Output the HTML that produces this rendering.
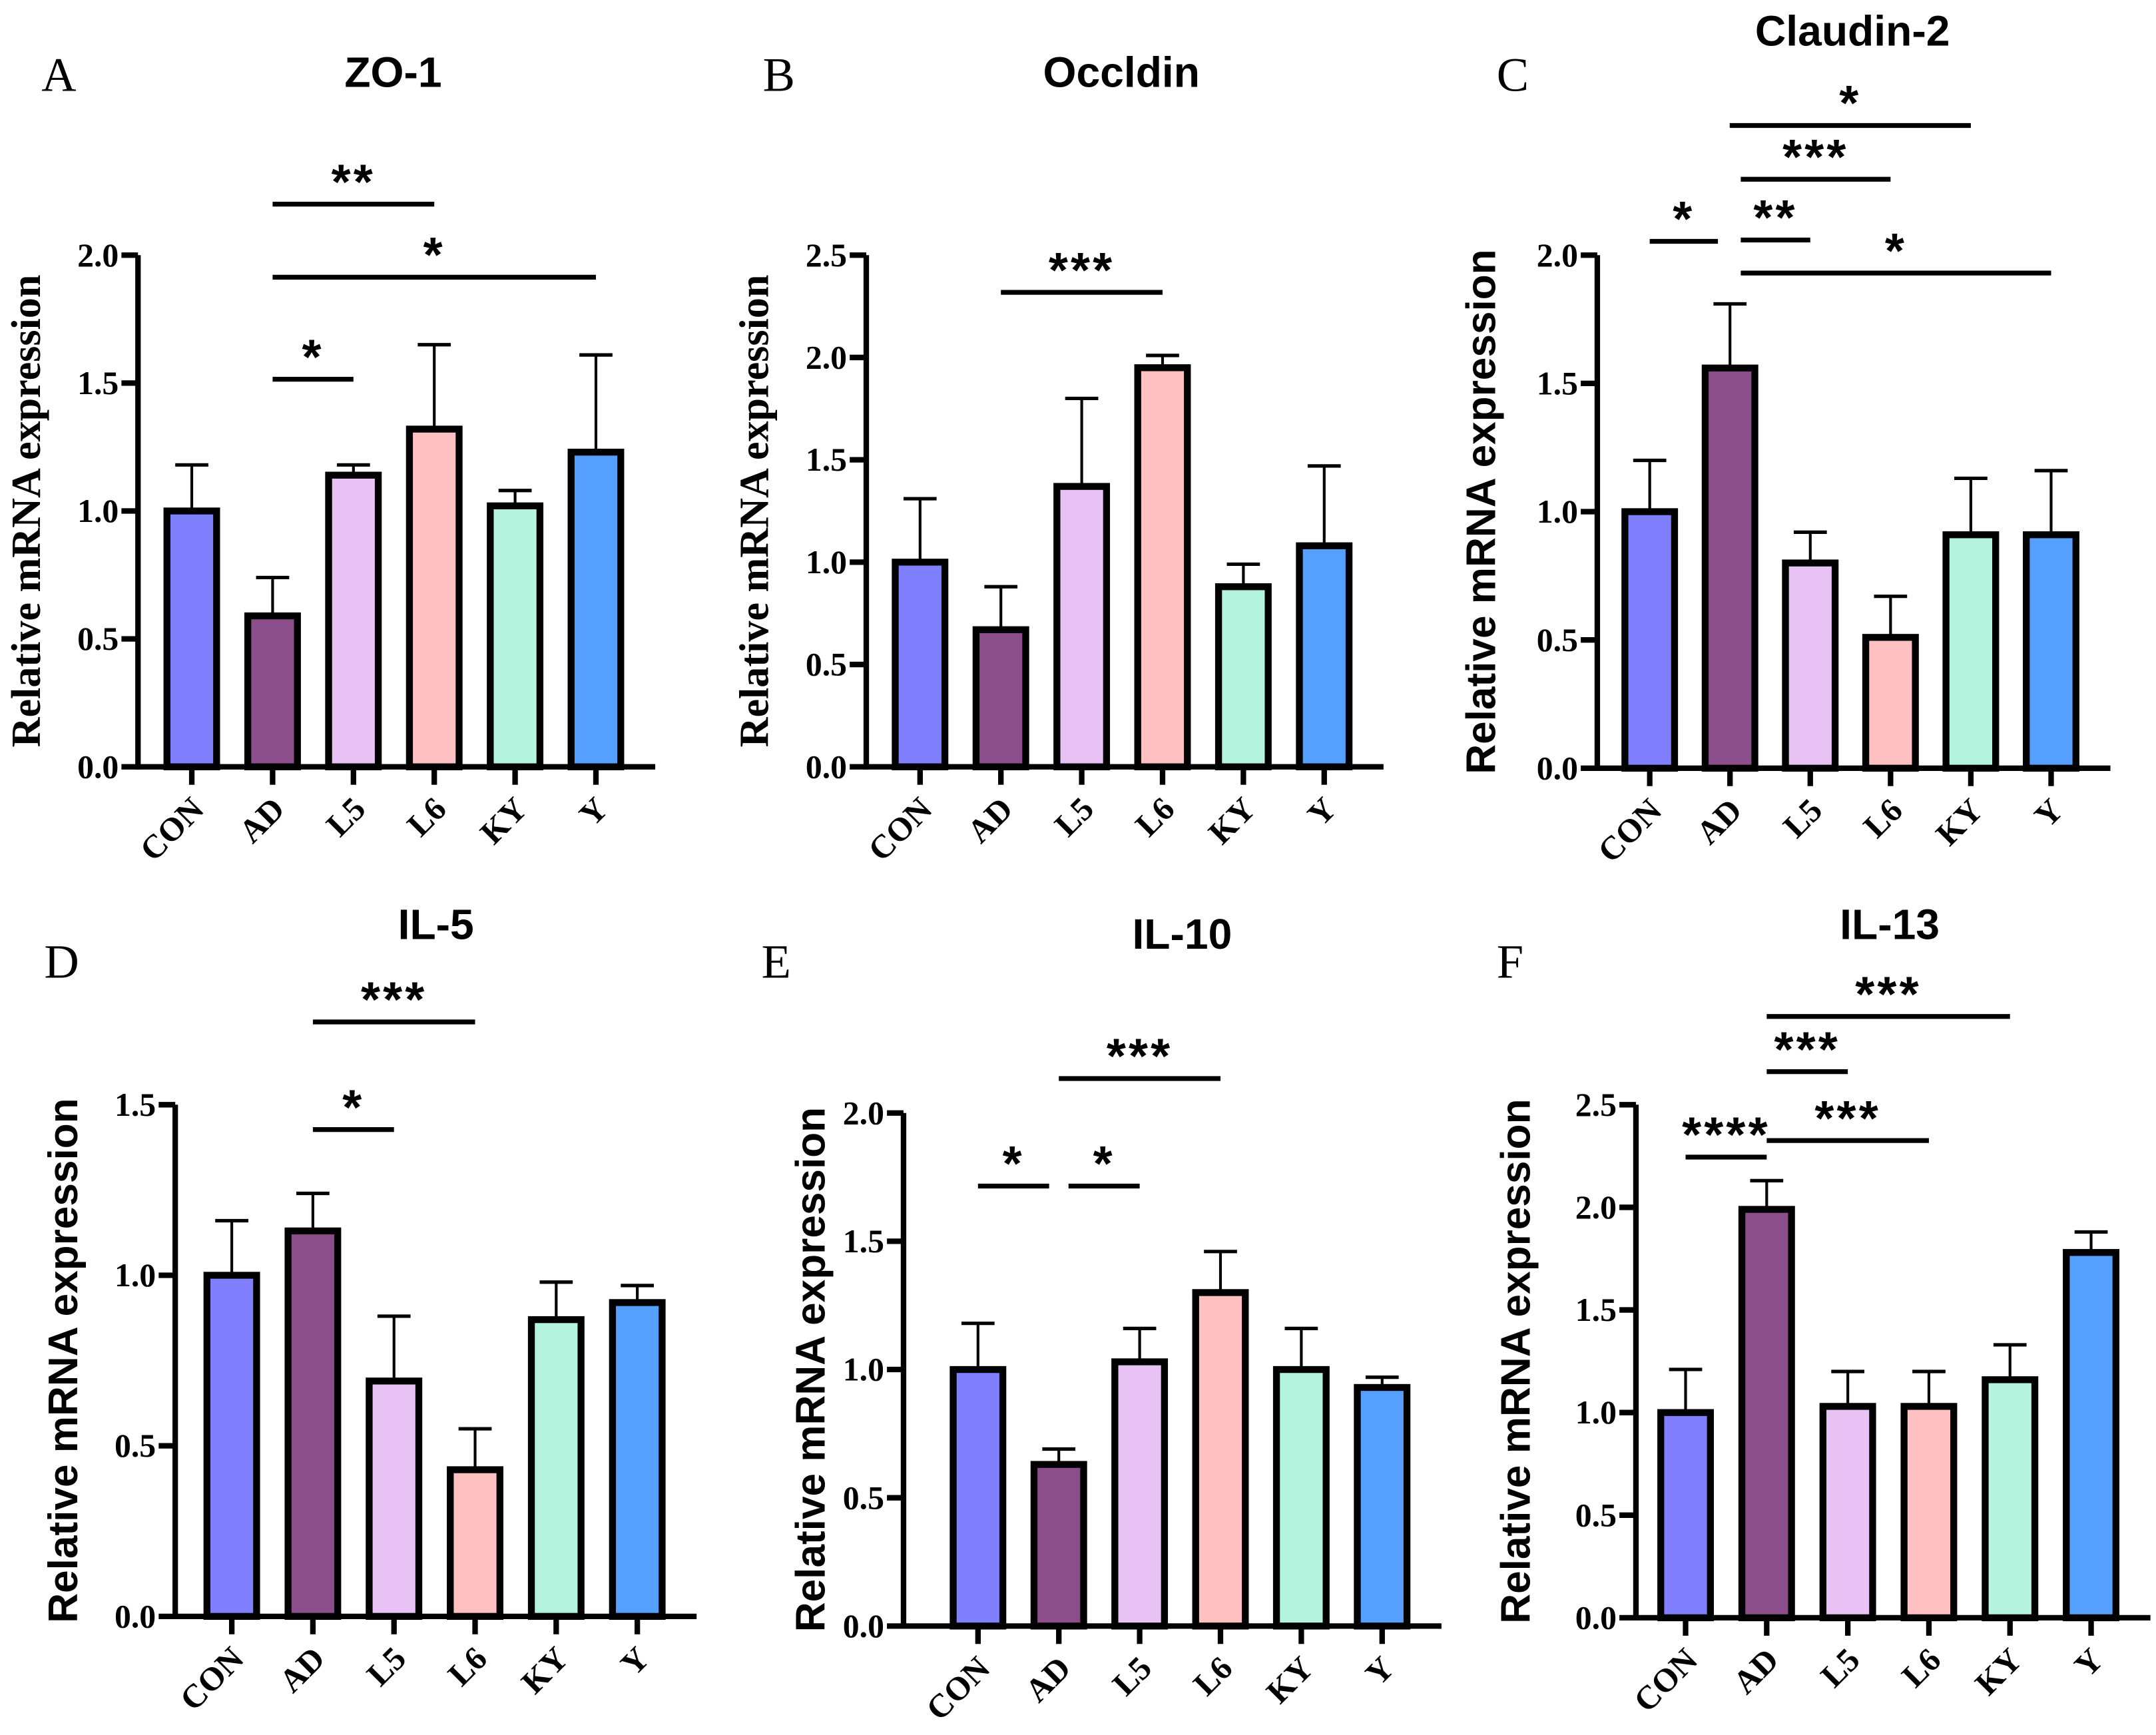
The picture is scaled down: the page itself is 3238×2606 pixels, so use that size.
<!DOCTYPE html>
<html><head><meta charset="utf-8"><style>
html,body{margin:0;padding:0;background:#fff;}
svg{display:block;}
.tick{font-family:"Liberation Serif",serif;font-weight:bold;font-size:24px;}
.xl{font-family:"Liberation Serif",serif;font-weight:bold;font-size:24px;}
.title{font-family:"Liberation Sans",sans-serif;font-weight:bold;font-size:31px;}
.letter{font-family:"Liberation Serif",serif;font-size:35px;}
.star{font-family:"Liberation Sans",sans-serif;font-weight:bold;font-size:36px;letter-spacing:2px;}
.ys{font-family:"Liberation Serif",serif;font-weight:bold;font-size:30px;}
.yss{font-family:"Liberation Sans",sans-serif;font-weight:bold;font-size:30px;}
</style></head><body>
<svg id="fig" width="3238" height="2606" viewBox="0 0 1563 1258" xmlns="http://www.w3.org/2000/svg"></svg>
<script>
const categories = ["CON","AD","L5","L6","KY","Y"];
const colors = ["#8080ff","#8b4e8a","#e8c2f4","#fec0c0","#b4f4de","#559ffe"];
const zo1Means = [1.0,0.59,1.14,1.32,1.02,1.23];
const zo1Errs = [0.18,0.15,0.04,0.33,0.06,0.38];
const occMeans = [1.0,0.67,1.37,1.95,0.88,1.08];
const occErrs = [0.31,0.21,0.43,0.06,0.11,0.39];
const cldMeans = [1.0,1.56,0.80,0.51,0.91,0.91];
const cldErrs = [0.20,0.25,0.12,0.16,0.22,0.25];
const il5Means = [1.0,1.13,0.69,0.43,0.87,0.92];
const il5Errs = [0.16,0.11,0.19,0.12,0.11,0.05];
const il10Means = [1.0,0.63,1.03,1.30,1.0,0.93];
const il10Errs = [0.18,0.06,0.13,0.16,0.16,0.04];
const il13Means = [1.0,1.99,1.03,1.03,1.16,1.78];
const il13Errs = [0.21,0.14,0.17,0.17,0.17,0.10];
const ticks2 = ["0.0","0.5","1.0","1.5","2.0"];
const ticks25 = ["0.0","0.5","1.0","1.5","2.0","2.5"];
const ticks15 = ["0.0","0.5","1.0","1.5"];

const NS="http://www.w3.org/2000/svg";
const svg=document.getElementById('fig');
function mk(tag,attrs,parent){const e=document.createElementNS(NS,tag);for(const k in attrs)e.setAttribute(k,attrs[k]);(parent||svg).appendChild(e);return e;}

const panels=[
 {id:"zo1",title:"ZO-1",tx:285,ty:63,letter:"A",lx:30,ly:66,ax:100,y0:556,ytop:185,ymax:2.0,ticks:ticks2,x0:139,dx:58.6,means:zo1Means,errs:zo1Errs,ylx:22,ycls:"ys",
  sig:[["**",1,3,148],["*",1,5,201],["*",1,2,275]]},
 {id:"occludin",title:"Occldin",tx:813,ty:63,letter:"B",lx:553,ly:66,ax:628,y0:556,ytop:185,ymax:2.5,ticks:ticks25,x0:667,dx:58.6,means:occMeans,errs:occErrs,ylx:550,ycls:"ys",
  sig:[["***",1,3,212]]},
 {id:"claudin2",title:"Claudin-2",tx:1343,ty:33,letter:"C",lx:1085,ly:66,ax:1158,y0:557,ytop:185,ymax:2.0,ticks:ticks2,x0:1196,dx:58.2,means:cldMeans,errs:cldErrs,ylx:1076,ycls:"yss",
  sig:[["*",0,0.85,175,1196],["**",1.14,2,174,1262],["***",1.14,3,130,1262],["*",1,4,91,1254],["*",1.14,5,198,1262]]},
 {id:"il5",title:"IL-5",tx:316,ty:681,letter:"D",lx:32,ly:709,ax:127,y0:1172,ytop:801,ymax:1.5,ticks:ticks15,x0:168,dx:58.8,means:il5Means,errs:il5Errs,ylx:48,ycls:"yss",
  sig:[["***",1,3,741],["*",1,2,819]]},
 {id:"il10",title:"IL-10",tx:857,ty:688,letter:"E",lx:552,ly:709,ax:655,y0:1179,ytop:807,ymax:2.0,ticks:ticks2,x0:709,dx:58.6,means:il10Means,errs:il10Errs,ylx:590,ycls:"yss",
  sig:[["*",0,0.88,860],["*",1.12,2,860],["***",1,3,782]]},
 {id:"il13",title:"IL-13",tx:1370,ty:681,letter:"F",lx:1085,ly:709,ax:1186,y0:1173,ytop:801,ymax:2.5,ticks:ticks25,x0:1222,dx:58.8,means:il13Means,errs:il13Errs,ylx:1101,ycls:"yss",
  sig:[["****",0,1,839],["***",1,4,737],["***",1,2,777],["***",1,3,827]]}
];

panels.forEach(p=>{
 const g=mk('g',{});
 
 
 const yS=v=>p.y0-(v/p.ymax)*(p.y0-p.ytop);
 const xS=i=>p.x0+i*p.dx;
 const t=mk('text',{x:p.tx,y:p.ty,'text-anchor':'middle',class:'title'},g);t.textContent=p.title;
 
 
 const l=mk('text',{x:p.lx,y:p.ly,class:'letter'},g);l.textContent=p.letter;
 
 
 const yl=mk('text',{x:p.ylx,y:(p.y0+p.ytop)/2,'text-anchor':'middle',transform:`rotate(-90 ${p.ylx} ${(p.y0+p.ytop)/2})`,class:p.ycls,'dominant-baseline':'middle'},g);
 yl.textContent="Relative mRNA expression";
 
 
 p.means.forEach((m,i)=>{
  const cx=xS(i),yt=yS(m),ye=yS(m+p.errs[i]);
  const e=mk('line',{x1:cx,x2:cx,y1:yt,y2:ye,stroke:'#000','stroke-width':2},g);
  
  
  const c=mk('line',{x1:cx-12,x2:cx+12,y1:ye,y2:ye,stroke:'#000','stroke-width':2.5},g);
  
  
  const b=mk('rect',{x:cx-18,y:yt,width:36,height:p.y0-yt,fill:colors[i],stroke:'#000','stroke-width':5},g);
  
  
 });
 const ya=mk('line',{x1:p.ax,x2:p.ax,y1:p.ytop,y2:p.y0+2,stroke:'#000','stroke-width':4},g);
 
 
 const xa=mk('line',{x1:p.ax-2,x2:xS(5)+43,y1:p.y0,y2:p.y0,stroke:'#000','stroke-width':4},g);
 
 
 p.ticks.forEach(tl=>{
  const y=yS(parseFloat(tl));
  mk('line',{x1:p.ax-12,x2:p.ax,y1:y,y2:y,stroke:'#000','stroke-width':4},g);
  const tt=mk('text',{x:p.ax-14,y:y+8,'text-anchor':'end',class:'tick'},g);tt.textContent=tl;
  
  
 });
 categories.forEach((c,i)=>{
  const cx=xS(i);
  mk('line',{x1:cx,x2:cx,y1:p.y0,y2:p.y0+13,stroke:'#000','stroke-width':4},g);
  const xt=mk('text',{x:cx+10,y:p.y0+32,'text-anchor':'end',transform:`rotate(-45 ${cx+10} ${p.y0+32})`,class:'xl'},g);
  xt.textContent=c;
  
  
 });
 p.sig.forEach(s=>{
  const x1=s[4]!==undefined?s[4]:xS(s[1]);const x2=xS(s[2]);
  const ln=mk('line',{x1:x1,x2:x2,y1:s[3],y2:s[3],stroke:'#000','stroke-width':3.5},g);
  
  
  const st=mk('text',{x:(x1+x2)/2,y:s[3]-4,'text-anchor':'middle',class:'star'},g);
  st.textContent=s[0];
  
  
 });
});
</script>
</body></html>
